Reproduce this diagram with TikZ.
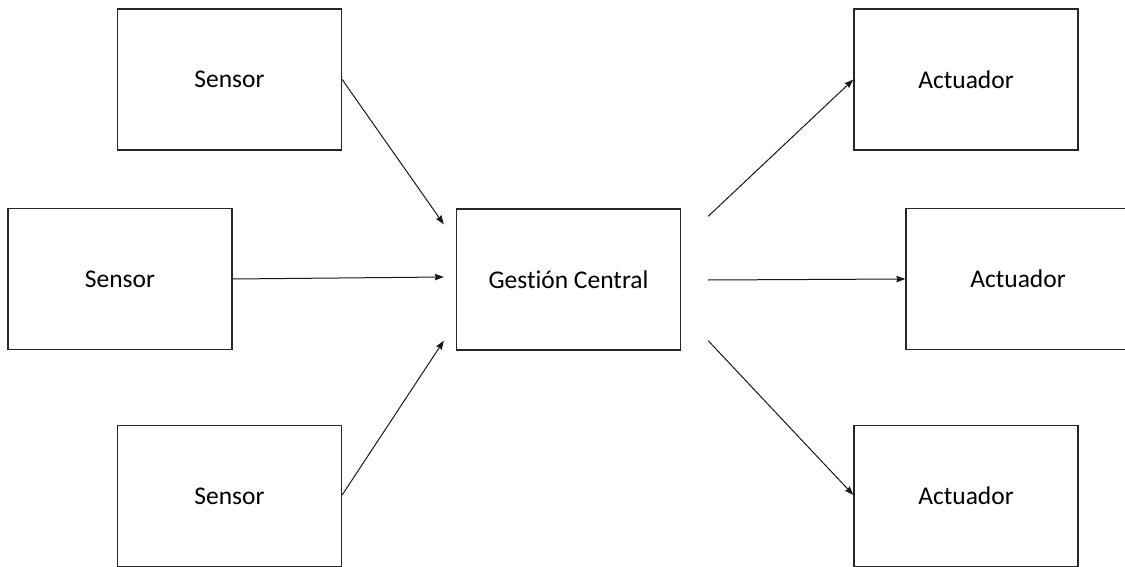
\documentclass[tikz,border=0pt]{standalone}
\usepackage{fontspec}
\setmainfont{Carlito}[Ligatures={NoCommon}]
\usetikzlibrary{arrows.meta,calc}
\begin{document}
\begin{tikzpicture}[x=1pt,y=-1pt,
  block/.style={draw=black!85, line width=1.3pt, rectangle,
    minimum width=224pt, minimum height=141pt, inner sep=0pt,
    font=\fontsize{25.5}{30}\selectfont},
  link/.style={draw=black!90, line width=1pt,
    -{Stealth[length=9pt,width=6.5pt,inset=1pt]}}]
  \useasboundingbox (0,0) rectangle (1125,567);
  \clip (0,0) rectangle (1125,567);
  \fill[white] (0,0) rectangle (1125,567);

  % sensors on the left
  \node[block] (s1) at (229.5,79.5) {Sensor};
  \node[block] (s2) at (120,279) {Sensor};
  \node[block] (s3) at (229.5,496) {Sensor};

  % central management block
  \node[block] (c) at (568.5,279.5) {Gestión Central};

  % actuators on the right
  \node[block] (a1) at (966,79.5) {Actuador};
  \node[block] (a2) at (1018,279) {Actuador};
  \node[block] (a3) at (966,496) {Actuador};

  % connector end points near the central block
  \coordinate (in1) at ($(c.north west)+(-12,16)$);
  \coordinate (in2) at ($(c.west)+(-12,-2.5)$);
  \coordinate (in3) at ($(c.south west)+(-12,-10)$);
  \coordinate (out1) at ($(c.north east)+(27,8)$);
  \coordinate (out2) at ($(c.east)+(27,0.5)$);
  \coordinate (out3) at ($(c.south east)+(27,-10)$);

  \draw[link] (s1.east) -- (in1);
  \draw[link] (s2.east) -- (in2);
  \draw[link] ($(s3.east)+(0,-1)$) -- (in3);
  \draw[link] (out1) -- (a1.west);
  \draw[link] (out2) -- (a2.west);
  \draw[link] (out3) -- ($(a3.west)+(0,-1)$);
\end{tikzpicture}
\end{document}
